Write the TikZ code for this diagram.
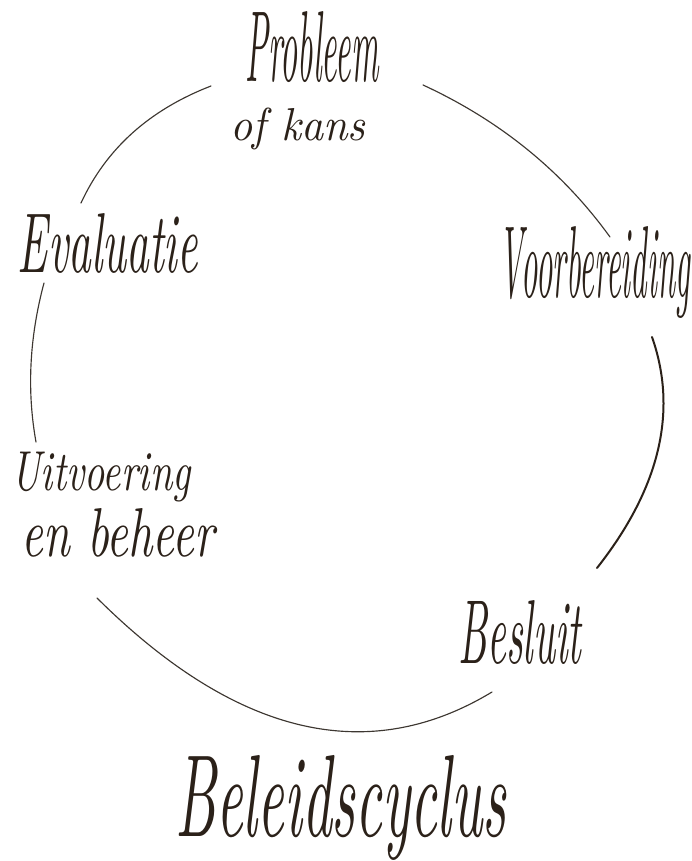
\documentclass[tikz,border=0pt]{standalone}
\usepackage{graphicx}
\definecolor{ink}{HTML}{2B2119}
\definecolor{pen}{HTML}{3D3731}
\begin{document}
\begin{tikzpicture}[x=1pt,y=-1pt,
  lbl/.style={inner sep=0pt,text=ink,font=\itshape},
  arc/.style={draw=pen,line width=1.15pt,line cap=round},
  thick arc/.style={draw=ink,line width=2pt,line cap=round}]
\useasboundingbox (0,0) rectangle (691,861);
% labels
\node[lbl] (probleem) at (312,47) {\resizebox{133pt}{70pt}{Probleem}};
\node[lbl] (kans) at (298,129) {\resizebox*{135pt}{42pt}{of kans}};
\node[lbl] (voorb) at (595,272) {\resizebox*{190pt}{92pt}{Voorbereiding}};
\node[lbl] (besluit) at (520,632) {\resizebox{123pt}{63pt}{Besluit}};
\node[lbl] (uitv) at (101,477) {\resizebox*{179pt}{50pt}{Uitvoering}};
\node[lbl] (beheer) at (118,533) {\resizebox{192pt}{48pt}{en beheer}};
\node[lbl] (eval) at (108,243) {\resizebox{180pt}{59pt}{Evaluatie}};
\node[lbl] (titel) at (341,808) {\resizebox*{331pt}{105pt}{Beleidscyclus}};
% arc end points
\coordinate (a1) at (211,86);  \coordinate (b1) at (81,203);
\coordinate (a2) at (423,85);  \coordinate (b2) at (610,237);
\coordinate (a3) at (652,337); \coordinate (b3) at (597,568);
\coordinate (a4) at (492,692); \coordinate (b4) at (97,598);
\coordinate (a5) at (36,442);  \coordinate (b5) at (44,283);
% arcs
\draw[arc] (a1) .. controls (149,110) and (106,149) .. (b1);
\draw[arc] (a2) .. controls (501,121) and (563,172) .. (b2);
\draw[thick arc] (a3) .. controls (678,411) and (660,488) .. (b3);
\draw[arc] (a4) .. controls (368,767) and (236,736) .. (b4);
\draw[arc] (a5) .. controls (27,392) and (29,339) .. (b5);
\end{tikzpicture}
\end{document}
